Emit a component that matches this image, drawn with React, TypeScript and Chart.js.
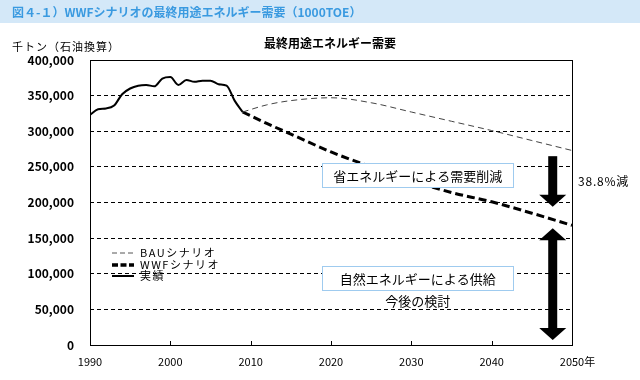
import React, { useEffect, useRef } from 'react';
import { Chart, registerables } from 'chart.js';

Chart.register(...registerables);

const FONT = '"Noto Sans CJK JP", "Noto Sans", sans-serif';

const headerText = '図４-１）WWFシナリオの最終用途エネルギー需要（1000TOE）';
const chartTitle = '最終用途エネルギー需要';
const yUnitLabel = '千トン（石油換算）';

const actualYears = [1990, 1991, 1992, 1993, 1994, 1995, 1996, 1997, 1998, 1999, 2000, 2001, 2002, 2003, 2004, 2005, 2006, 2007, 2008, 2009];
const actualValues = [323000, 331000, 332000, 336000, 352000, 360000, 364000, 365000, 363000, 374000, 376000, 365000, 372000, 369500, 371000, 371000, 366000, 364000, 343000, 327000];

const scenarioYears = [2009, 2012, 2015, 2020, 2025, 2030, 2035, 2040, 2045, 2050];
const bauValues = [327000, 337000, 343000, 347000, 340000, 327000, 314000, 301000, 287000, 273000];
const wwfValues = [327000, 311000, 296000, 271000, 250000, 231000, 214000, 201000, 185000, 168000];

const legendLabels = ['BAUシナリオ', 'WWFシナリオ', '実績'];

const arrowYear = 2047.6;
const reductionArrow = [265000, 194000];
const supplyArrow = [164000, 7000];
const reductionLabel = '38.8%減';
const box1Text = '省エネルギーによる需要削減';
const box2Text = '自然エネルギーによる供給';
const noteText = '今後の検討';
const boxCenterYear = 2030.8;
const box1Value = 238000;
const box2Value = 93500;
const noteValue = 61500;

function drawArrowHead(ctx: CanvasRenderingContext2D, x: number, tipY: number, dir: number, headW: number, headH: number) {
  ctx.beginPath();
  ctx.moveTo(x, tipY);
  ctx.lineTo(x - headW / 2, tipY - dir * headH);
  ctx.lineTo(x + headW / 2, tipY - dir * headH);
  ctx.closePath();
  ctx.fill();
}

const decorPlugin = {
  id: 'decor',
  beforeDraw(chart: any) {
    const ctx: any = chart.ctx;
    const w = chart.width;
    ctx.save();
    ctx.fillStyle = '#ffffff';
    ctx.fillRect(0, 0, w, chart.height);
    ctx.fillStyle = '#d4e8f8';
    ctx.fillRect(0, 0, w, 23);
    ctx.fillStyle = '#3a9ae0';
    ctx.font = `bold 12px ${FONT}`;
    ctx.textBaseline = 'middle';
    ctx.textAlign = 'left';
    ctx.fillText(headerText, 12, 12.5);
    ctx.fillStyle = '#000';
    ctx.font = `bold 12px ${FONT}`;
    ctx.textAlign = 'center';
    ctx.fillText(chartTitle, 330, 43);
    ctx.font = `11px ${FONT}`;
    ctx.textAlign = 'left';
    ctx.letterSpacing = '1px';
    ctx.fillText(yUnitLabel, 12, 47);
    ctx.letterSpacing = '0px';
    ctx.restore();
  },
  afterDatasetsDraw(chart: any) {
    const ctx: any = chart.ctx;
    const { left, right, top, bottom } = chart.chartArea;
    const xs = chart.scales.x;
    const ys = chart.scales.y;
    ctx.save();
    // inner ticks on x axis
    ctx.strokeStyle = '#000';
    ctx.lineWidth = 1;
    ctx.setLineDash([]);
    xs.ticks.forEach((t: any) => {
      const px = Math.round(xs.getPixelForValue(t.value)) + 0.5;
      ctx.beginPath();
      ctx.moveTo(px, bottom);
      ctx.lineTo(px, bottom - 4);
      ctx.stroke();
    });
    // frame
    ctx.strokeRect(Math.round(left) + 0.5, Math.round(top) + 0.5, Math.round(right - left), Math.round(bottom - top));

    // text boxes
    const bx = xs.getPixelForValue(boxCenterYear);
    const boxW = 191;
    const boxH = 24;
    ctx.font = `13px ${FONT}`;
    ctx.textAlign = 'center';
    ctx.textBaseline = 'middle';
    [[box1Text, box1Value], [box2Text, box2Value]].forEach(([txt, val]) => {
      const by = ys.getPixelForValue(val as number);
      ctx.fillStyle = '#ffffff';
      ctx.fillRect(bx - boxW / 2, by - boxH / 2, boxW, boxH);
      ctx.strokeStyle = '#9fcbef';
      ctx.lineWidth = 1;
      ctx.strokeRect(Math.round(bx - boxW / 2) + 0.5, Math.round(by - boxH / 2) + 0.5, boxW, boxH);
      ctx.fillStyle = '#000';
      ctx.fillText(txt as string, bx, by + 0.5);
    });
    ctx.fillText(noteText, bx, ys.getPixelForValue(noteValue));

    // arrows
    const ax = xs.getPixelForValue(arrowYear);
    const shaftW = 9;
    const headW = 27;
    const headH = 12;
    ctx.fillStyle = '#000';
    const a1Top = ys.getPixelForValue(reductionArrow[0]);
    const a1Tip = ys.getPixelForValue(reductionArrow[1]);
    ctx.fillRect(ax - shaftW / 2, a1Top, shaftW, a1Tip - headH - a1Top + 1);
    drawArrowHead(ctx, ax, a1Tip, 1, headW, headH);
    const a2Top = ys.getPixelForValue(supplyArrow[0]);
    const a2Bot = ys.getPixelForValue(supplyArrow[1]);
    ctx.fillRect(ax - shaftW / 2, a2Top + headH - 1, shaftW, a2Bot - a2Top - 2 * headH + 2);
    drawArrowHead(ctx, ax, a2Top, -1, headW, headH);
    drawArrowHead(ctx, ax, a2Bot, 1, headW, headH);

    // reduction label
    ctx.font = `12px ${FONT}`;
    ctx.textAlign = 'left';
    ctx.letterSpacing = '0.8px';
    ctx.fillText(reductionLabel, right + 6, (a1Top + a1Tip) / 2);
    ctx.letterSpacing = '0px';

    // 年 after last x label
    ctx.font = `11px ${FONT}`;
    const lastTick = xs.ticks[xs.ticks.length - 1];
    const lastPx = xs.getPixelForValue(lastTick.value);
    const lw = ctx.measureText(String(lastTick.value)).width;
    ctx.textAlign = 'left';
    ctx.fillText('年', lastPx + lw / 2, bottom + 10 + 6.6);

    // legend
    const lgX = left + 22;
    const lgRows = [top + 193, top + 205, top + 216];
    chart.data.datasets.forEach((ds: any, i: number) => {
      const y = lgRows[i];
      ctx.strokeStyle = '#000';
      if (i === 0) {
        ctx.lineWidth = 1;
        ctx.strokeStyle = '#555';
        ctx.setLineDash([5, 3]);
      } else if (i === 1) {
        ctx.lineWidth = 3.5;
        ctx.setLineDash([6, 2.5]);
      } else {
        ctx.lineWidth = 2;
        ctx.setLineDash([]);
      }
      ctx.beginPath();
      ctx.moveTo(lgX, y);
      ctx.lineTo(lgX + 22, y);
      ctx.stroke();
      ctx.setLineDash([]);
      ctx.fillStyle = '#000';
      ctx.font = `11px ${FONT}`;
      ctx.textAlign = 'left';
      ctx.textBaseline = 'middle';
      ctx.letterSpacing = '1.5px';
      ctx.fillText(legendLabels[i], lgX + 28, y);
      ctx.letterSpacing = '0px';
    });
    ctx.restore();
  },
};

export default function App() {
  const ref = useRef<HTMLCanvasElement | null>(null);
  useEffect(() => {
    document.body.style.margin = '0';
    if (!ref.current) return;
    const toPts = (xs: number[], vs: number[]) => xs.map((x, i) => ({ x, y: vs[i] }));
    const chart = new Chart(ref.current, {
      type: 'line',
      data: {
        datasets: [
          {
            label: legendLabels[0],
            data: toPts(scenarioYears, bauValues),
            borderColor: '#444',
            borderWidth: 1,
            borderDash: [6, 4],
            pointRadius: 0,
            cubicInterpolationMode: 'monotone',
          },
          {
            label: legendLabels[1],
            data: toPts(scenarioYears, wwfValues),
            borderColor: '#000',
            borderWidth: 3,
            borderDash: [8, 4],
            pointRadius: 0,
            cubicInterpolationMode: 'monotone',
          },
          {
            label: legendLabels[2],
            data: toPts(actualYears, actualValues),
            borderColor: '#000',
            borderWidth: 2,
            pointRadius: 0,
            cubicInterpolationMode: 'monotone',
          },
        ],
      },
      options: {
        responsive: false,
        animation: false,
        devicePixelRatio: 1,
        layout: { padding: { top: 60, right: 68, bottom: 0, left: 0 } },
        plugins: { legend: { display: false }, title: { display: false }, tooltip: { enabled: false } },
        scales: {
          x: {
            type: 'linear',
            min: 1990,
            max: 2050,
            afterFit: (s: any) => { s.height = 35; },
            grid: { display: false, drawTicks: false },
            border: { display: false },
            ticks: {
              stepSize: 10,
              padding: 10,
              color: '#000',
              font: { family: FONT, size: 11 },
              maxRotation: 0,
              callback: (v: any) => String(v),
            },
          },
          y: {
            min: 0,
            max: 400000,
            afterFit: (s: any) => { s.width = 90; },
            grid: { color: '#000', lineWidth: 1, drawTicks: false },
            border: { display: false, dash: [4, 3] },
            ticks: {
              stepSize: 50000,
              padding: 16,
              color: '#000',
              font: { family: FONT, size: 12, weight: 'bold' },
              callback: (v: any) => Number(v).toLocaleString('en-US'),
            },
          },
        },
      },
      plugins: [decorPlugin],
    } as any);
    return () => chart.destroy();
  }, []);
  return <canvas ref={ref} width={640} height={380} style={{ display: 'block' }} />;
}
